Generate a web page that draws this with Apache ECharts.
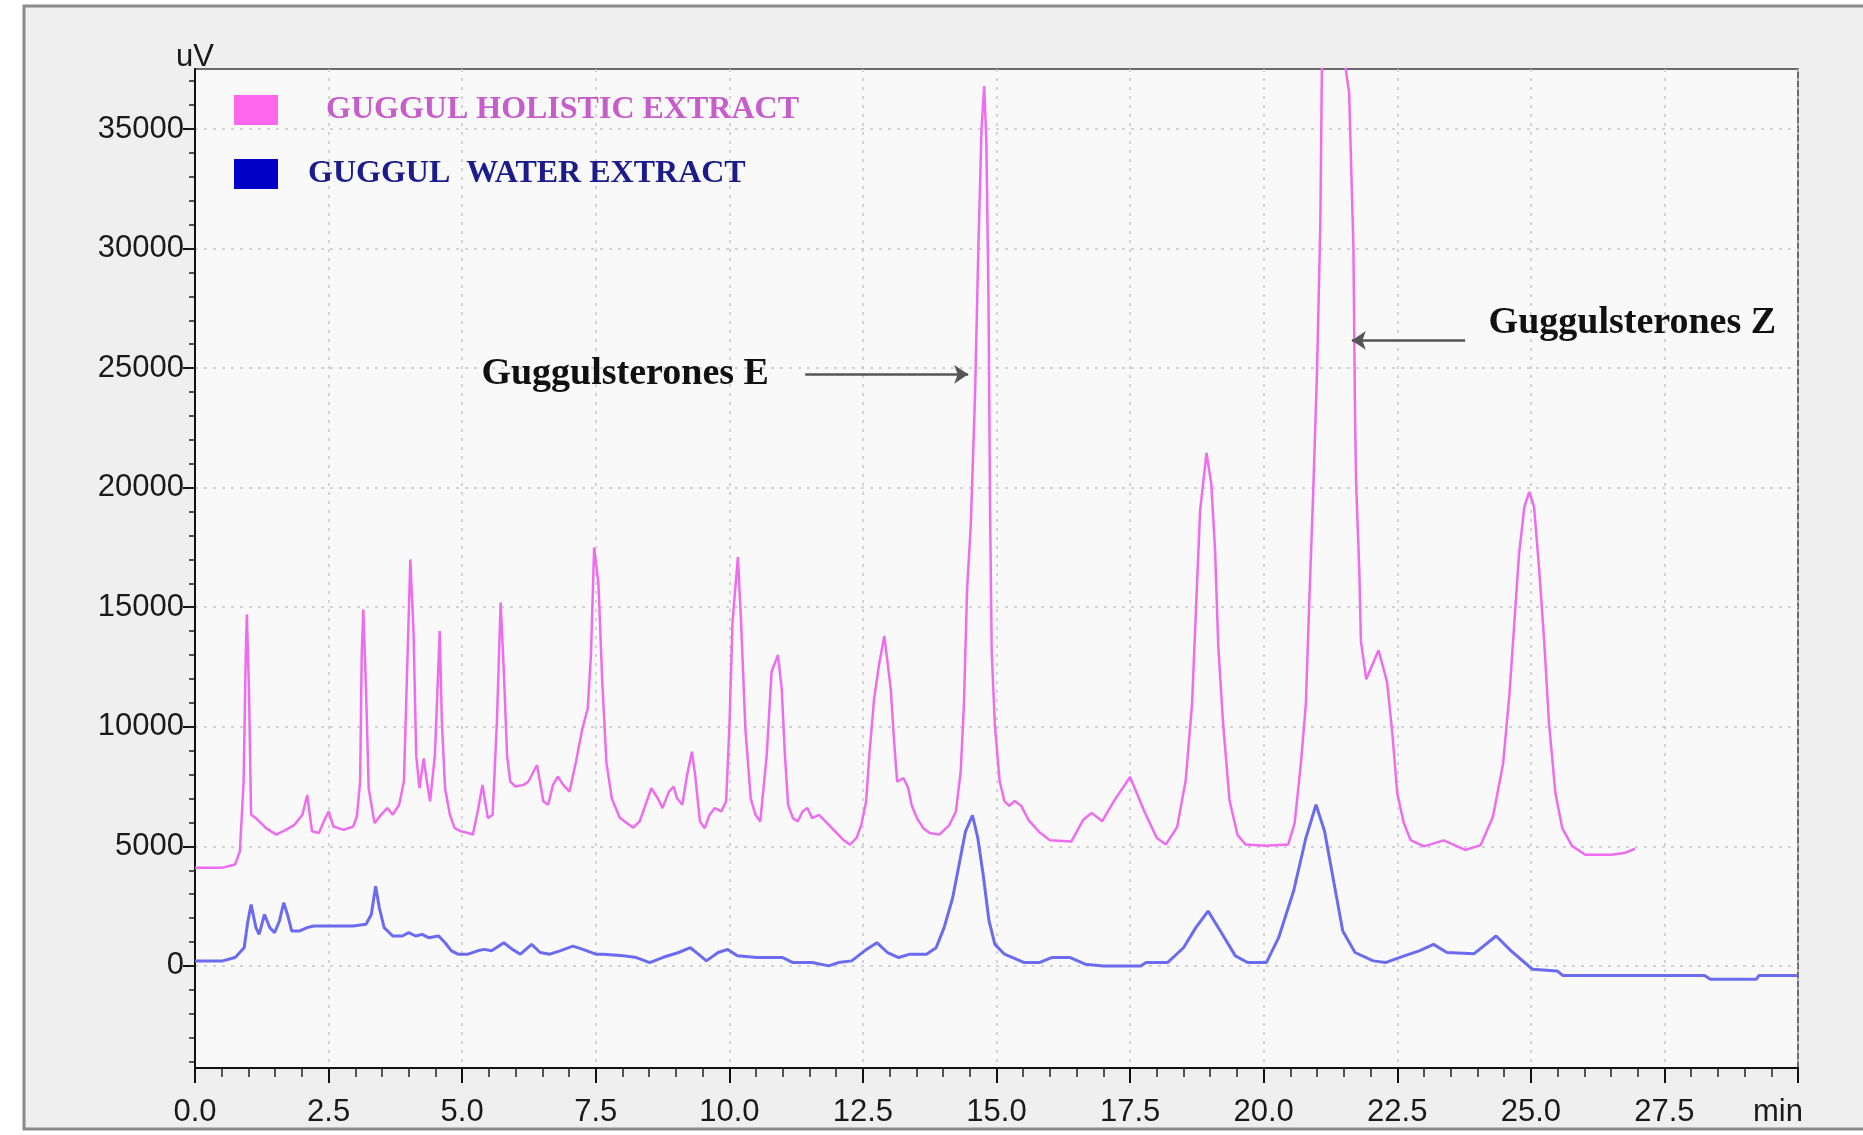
<!DOCTYPE html>
<html><head><meta charset="utf-8">
<script src="https://cdn.jsdelivr.net/npm/echarts@6/dist/echarts.min.js"></script>
<style>html,body{margin:0;padding:0;background:#ffffff;}#c{width:1863px;height:1135px;}</style>
</head><body><div id="c"></div>
<script>
// ---- data ----
const seriesNames = ['GUGGUL HOLISTIC EXTRACT', 'GUGGUL  WATER EXTRACT'];

const holisticTime = [0, 0.5, 0.75, 0.84, 0.91, 0.95, 0.97, 1.01, 1.05, 1.14, 1.33, 1.52, 1.7, 1.86, 2.01, 2.1, 2.19, 2.32, 2.41, 2.5, 2.59, 2.78, 2.96, 3.03, 3.09, 3.12, 3.15, 3.2, 3.25, 3.36, 3.48, 3.6, 3.7, 3.82, 3.91, 3.96, 4.03, 4.09, 4.14, 4.2, 4.28, 4.34, 4.4, 4.49, 4.58, 4.62, 4.68, 4.77, 4.86, 4.98, 5.11, 5.2, 5.29, 5.38, 5.48, 5.57, 5.65, 5.72, 5.78, 5.84, 5.9, 6.0, 6.15, 6.24, 6.4, 6.52, 6.61, 6.7, 6.79, 6.89, 7.01, 7.13, 7.25, 7.35, 7.41, 7.47, 7.55, 7.62, 7.7, 7.8, 7.95, 8.2, 8.32, 8.41, 8.54, 8.66, 8.75, 8.87, 8.96, 9.02, 9.12, 9.21, 9.3, 9.36, 9.45, 9.54, 9.63, 9.73, 9.85, 9.94, 10.0, 10.06, 10.16, 10.22, 10.3, 10.4, 10.49, 10.58, 10.7, 10.79, 10.91, 10.98, 11.04, 11.1, 11.19, 11.28, 11.37, 11.46, 11.55, 11.68, 11.77, 11.92, 12.13, 12.26, 12.38, 12.47, 12.56, 12.62, 12.71, 12.8, 12.9, 12.96, 13.02, 13.08, 13.14, 13.26, 13.35, 13.41, 13.51, 13.63, 13.75, 13.93, 14.12, 14.24, 14.33, 14.39, 14.45, 14.52, 14.6, 14.66, 14.72, 14.77, 14.81, 14.85, 14.88, 14.91, 14.97, 15.06, 15.15, 15.24, 15.34, 15.46, 15.6, 15.8, 16.0, 16.4, 16.62, 16.78, 16.98, 17.2, 17.5, 17.77, 18.0, 18.17, 18.38, 18.54, 18.66, 18.75, 18.81, 18.93, 19.02, 19.09, 19.15, 19.24, 19.36, 19.51, 19.66, 20.03, 20.46, 20.58, 20.7, 20.79, 20.85, 20.93, 21.0, 21.06, 21.09, 21.15, 21.3, 21.45, 21.53, 21.6, 21.68, 21.71, 21.73, 21.79, 21.82, 21.92, 22.15, 22.31, 22.41, 22.5, 22.62, 22.75, 23.0, 23.37, 23.77, 24.06, 24.29, 24.48, 24.6, 24.69, 24.78, 24.88, 24.97, 25.06, 25.15, 25.25, 25.34, 25.46, 25.59, 25.77, 26.02, 26.5, 26.75, 26.95];
const holisticValues = [4100, 4100, 4240, 4790, 7710, 12990, 14700, 11600, 6320, 6180, 5760, 5490, 5690, 5900, 6320, 7150, 5630, 5560, 6040, 6460, 5830, 5690, 5830, 6250, 7710, 12990, 14900, 11600, 7430, 5970, 6320, 6600, 6320, 6740, 7710, 11600, 17000, 13960, 8820, 7430, 8680, 7710, 6880, 8820, 14000, 10210, 7430, 6320, 5760, 5630, 5560, 5490, 6460, 7570, 6180, 6320, 10210, 15200, 12290, 8820, 7710, 7500, 7570, 7710, 8400, 6880, 6740, 7570, 7920, 7570, 7290, 8540, 9930, 10760, 12990, 17500, 16000, 12000, 8500, 7000, 6200, 5780, 6040, 6600, 7430, 7010, 6600, 7290, 7500, 7010, 6740, 7990, 8960, 7990, 6040, 5760, 6320, 6600, 6460, 6880, 9930, 14380, 17100, 14380, 9930, 7010, 6320, 6040, 8820, 12290, 13000, 11600, 8820, 6740, 6180, 6040, 6460, 6600, 6180, 6320, 6110, 5760, 5280, 5070, 5350, 5900, 6880, 8820, 11180, 12570, 13800, 12710, 11600, 9510, 7710, 7850, 7430, 6740, 6180, 5760, 5560, 5490, 5900, 6460, 8130, 10900, 15770, 18500, 24000, 30000, 35000, 36800, 34500, 28000, 19000, 13150, 10050, 7710, 6880, 6700, 6900, 6700, 6100, 5600, 5250, 5200, 6100, 6400, 6050, 6900, 7900, 6450, 5350, 5080, 5800, 7740, 10970, 15800, 19030, 21450, 20160, 17420, 13390, 10160, 6940, 5480, 5080, 5030, 5080, 5970, 8550, 10970, 15000, 20000, 25000, 31000, 37600, 42000, 45000, 42000, 37600, 36500, 30000, 23000, 20190, 16520, 13580, 11990, 13200, 11870, 9670, 7220, 6000, 5260, 5000, 5250, 4850, 5050, 6240, 8440, 11380, 14310, 17250, 19210, 19820, 19210, 16760, 13580, 10160, 7220, 5750, 5020, 4650, 4650, 4720, 4900];

const waterTime = [0, 0.5, 0.75, 0.92, 0.99, 1.05, 1.14, 1.2, 1.3, 1.4, 1.49, 1.58, 1.66, 1.73, 1.81, 1.96, 2.1, 2.22, 2.59, 2.96, 3.2, 3.3, 3.38, 3.45, 3.54, 3.7, 3.88, 4.0, 4.13, 4.25, 4.37, 4.56, 4.68, 4.8, 4.92, 5.11, 5.29, 5.41, 5.55, 5.78, 5.94, 6.09, 6.3, 6.46, 6.64, 6.83, 7.07, 7.26, 7.5, 7.65, 8.02, 8.26, 8.51, 8.75, 9.05, 9.27, 9.42, 9.57, 9.79, 9.97, 10.15, 10.52, 11.0, 11.19, 11.55, 11.86, 12.04, 12.29, 12.53, 12.76, 12.96, 13.17, 13.38, 13.69, 13.87, 14.02, 14.18, 14.3, 14.42, 14.55, 14.65, 14.75, 14.86, 14.97, 15.15, 15.52, 15.8, 16.03, 16.38, 16.66, 17.0, 17.7, 17.8, 18.2, 18.5, 18.73, 18.96, 19.19, 19.47, 19.7, 20.05, 20.28, 20.56, 20.79, 20.98, 21.14, 21.31, 21.48, 21.71, 22.05, 22.28, 22.63, 22.91, 23.18, 23.43, 23.94, 24.35, 24.63, 25.03, 25.49, 25.6, 28.25, 28.36, 29.22, 29.27, 30];
const waterValues = [200, 200, 350, 760, 1880, 2570, 1600, 1320, 2150, 1600, 1390, 1880, 2640, 2150, 1460, 1460, 1600, 1670, 1670, 1670, 1740, 2150, 3330, 2430, 1600, 1250, 1250, 1390, 1250, 1320, 1180, 1250, 970, 630, 490, 490, 630, 690, 630, 970, 690, 490, 900, 560, 490, 630, 830, 690, 490, 490, 420, 350, 140, 350, 560, 760, 490, 210, 560, 690, 420, 350, 350, 140, 140, 0, 140, 210, 630, 970, 560, 350, 490, 490, 760, 1600, 2850, 4240, 5630, 6300, 5350, 3820, 1880, 900, 490, 140, 140, 350, 350, 70, 0, 0, 140, 140, 760, 1600, 2290, 1460, 420, 140, 140, 1180, 3130, 5350, 6740, 5630, 3540, 1460, 560, 210, 140, 420, 630, 900, 560, 510, 1250, 630, -140, -210, -400, -400, -560, -560, -400, -400];

const xTickLabels = ['0.0', '2.5', '5.0', '7.5', '10.0', '12.5', '15.0', '17.5', '20.0', '22.5', '25.0', '27.5', 'min'];
const yTickValues = [0, 5000, 10000, 15000, 20000, 25000, 30000, 35000];
const yMinorTickValues = [-4000, -3000, -2000, -1000, 0, 1000, 2000, 3000, 4000, 5000, 6000, 7000, 8000, 9000, 10000, 11000, 12000, 13000, 14000, 15000, 16000, 17000, 18000, 19000, 20000, 21000, 22000, 23000, 24000, 25000, 26000, 27000, 28000, 29000, 30000, 31000, 32000, 33000, 34000, 35000, 36000, 37000];

const annotationLabels = ['Guggulsterones E', 'Guggulsterones Z'];
const annotationTextAt = [[8.05, 24740], [26.9, 26870]];
const annotationArrowFrom = [[11.42, 24740], [23.77, 26160]];
const annotationArrowTo = [[14.47, 24740], [21.65, 26160]];

// ---- chart ----
const Y_MIN = -4270, Y_MAX = 37510;
const holisticData = holisticTime.map((t, i) => [t, holisticValues[i]]);
const waterData = waterTime.map((t, i) => [t, waterValues[i]]);
const axisFont = '"Liberation Sans", Arial, sans-serif';
const serifFont = '"Liberation Serif", "Times New Roman", serif';

const chart = echarts.init(document.getElementById('c'), null, {renderer: 'canvas'});
chart.setOption({
  animation: false,
  backgroundColor: '#ffffff',
  graphic: [{
    type: 'rect', silent: true, z: -10,
    shape: {x: 24, y: 6, width: 1860, height: 1123},
    style: {fill: '#efefef', stroke: '#8a8a8a', lineWidth: 3}
  }],
  grid: {left: 195, top: 69, right: 65, bottom: 67, show: true,
    backgroundColor: '#f9f9f9', borderColor: '#6a6a6a', borderWidth: 2},
  legend: {
    left: 229, top: 89, orient: 'vertical', icon: 'rect',
    itemWidth: 44, itemHeight: 30, itemGap: 32, selectedMode: false,
    textStyle: {fontFamily: serifFont, fontWeight: 'bold', fontSize: 32},
    data: [
      {name: seriesNames[0], itemStyle: {color: '#ff66ee'}, textStyle: {color: '#c75ccb', padding: [0, 0, 14, 43]}},
      {name: seriesNames[1], itemStyle: {color: '#0000c8'}, textStyle: {color: '#1b1b8c', padding: [0, 0, 6, 25]}}
    ]
  },
  xAxis: {
    type: 'value', min: 0, max: 30, interval: 2.5,
    axisLine: {show: true, onZero: false, lineStyle: {color: '#111', width: 2}},
    axisTick: {show: true, length: 15, lineStyle: {color: '#111', width: 2}},
    minorTick: {show: true, splitNumber: 5, length: 9, lineStyle: {color: '#222', width: 1.5}},
    axisLabel: {
      margin: 29, fontFamily: axisFont, fontSize: 31, color: '#1a1a1a',
      formatter: v => {
        const s = xTickLabels[Math.round(v / 2.5)];
        return s === 'min' ? '{m|' + s + '}' : s;
      },
      rich: {m: {fontFamily: axisFont, fontSize: 31, color: '#1a1a1a', padding: [0, 40, 0, 0]}}
    },
    splitLine: {show: true, lineStyle: {color: '#c6c6c6', width: 1.5, type: [3, 6]}},
    minorSplitLine: {show: false}
  },
  yAxis: [{
    type: 'value', min: Y_MIN, max: Y_MAX, position: 'left',
    name: 'uV', nameLocation: 'end', nameGap: -4,
    nameTextStyle: {fontFamily: axisFont, fontSize: 31, color: '#1a1a1a', align: 'center'},
    axisLine: {show: true, onZero: false, lineStyle: {color: '#111', width: 2}},
    axisTick: {show: true, length: 12, customValues: yTickValues, lineStyle: {color: '#111', width: 2}},
    axisLabel: {customValues: yTickValues, margin: 11, fontFamily: axisFont, fontSize: 31, color: '#1a1a1a',
      formatter: v => String(v)},
    splitLine: {show: true, lineStyle: {color: '#c6c6c6', width: 1.5, type: [3, 6]}}
  }, {
    type: 'value', min: Y_MIN, max: Y_MAX, position: 'left', offset: 0,
    axisLine: {show: false},
    axisTick: {show: true, length: 6, customValues: yMinorTickValues, lineStyle: {color: '#222', width: 1.5}},
    axisLabel: {show: false},
    splitLine: {show: false}
  }],
  series: [{
    name: seriesNames[0], type: 'line', data: holisticData,
    showSymbol: false, symbol: 'none', z: 3,
    lineStyle: {color: '#ee6cee', width: 2.5},
    itemStyle: {color: '#ff66ee'},
    markLine: {
      silent: true, symbol: ['none', 'arrow'], symbolSize: 14,
      label: {show: false},
      lineStyle: {color: '#555555', width: 2.5, type: 'solid'},
      data: annotationArrowFrom.map((p, i) => [{coord: p}, {coord: annotationArrowTo[i]}])
    },
    markPoint: {
      silent: true, symbol: 'rect', symbolSize: 1,
      itemStyle: {color: 'rgba(0,0,0,0)'},
      label: {show: true, position: 'inside', fontFamily: serifFont, fontWeight: 'bold',
        fontSize: 38, color: '#111', formatter: p => p.name},
      data: annotationLabels.map((s, i) => ({name: s, coord: annotationTextAt[i]}))
    }
  }, {
    name: seriesNames[1], type: 'line', data: waterData,
    showSymbol: false, symbol: 'none', z: 2,
    lineStyle: {color: '#6b6bef', width: 3},
    itemStyle: {color: '#0000c8'}
  }]
});
</script></body></html>
